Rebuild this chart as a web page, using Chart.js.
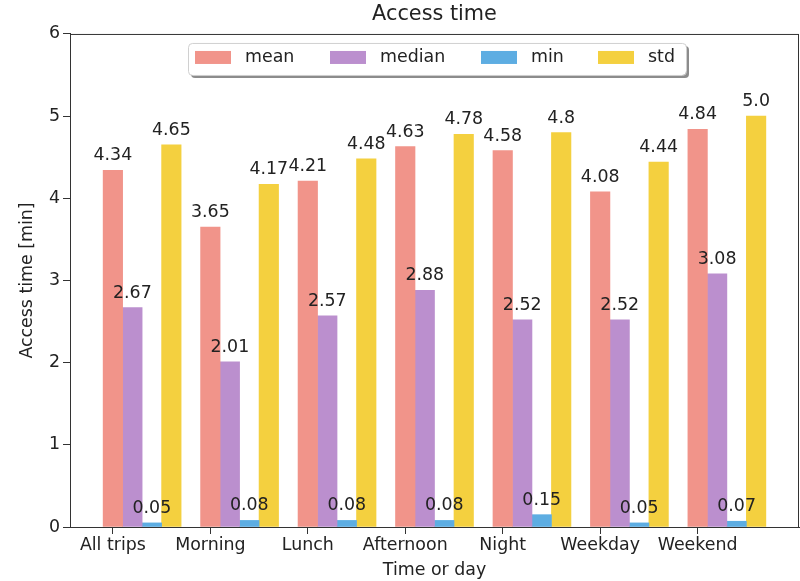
<!DOCTYPE html>
<html>
<head>
<meta charset="utf-8">
<script src="https://cdn.jsdelivr.net/npm/chart.js@4/dist/chart.umd.min.js"></script>
<style>
  html, body { margin: 0; padding: 0; background: #fff; }
  #wrap { width: 800px; height: 581px; }
</style>
</head>
<body>
<div id="wrap"><canvas id="c" width="800" height="581"></canvas></div>
<script>
'use strict';
// Temps d'accès par période : moyenne, médiane, min, écart-type (minutes).
const CATS = ['All trips', 'Morning', 'Lunch', 'Afternoon', 'Night', 'Weekday', 'Weekend'];
const MEAN = [4.34, 3.65, 4.21, 4.63, 4.58, 4.08, 4.84];
const MEDIAN = [2.67, 2.01, 2.57, 2.88, 2.52, 2.52, 3.08];
const MIN = [0.05, 0.08, 0.08, 0.08, 0.15, 0.05, 0.07];
const STD = [4.65, 4.17, 4.48, 4.78, 4.8, 4.44, 5.0];
const Y_TICKS = [0, 1, 2, 3, 4, 5, 6];

const FONT = 'DejaVu Sans';
const FS = 17.4;
const INK = '#222';
const AXIS = '#333';
const W = 0.2; // largeur d'une barre en unités de l'axe x

const SERIES = [
  { label: 'mean', values: MEAN, color: '#F1948A' },
  { label: 'median', values: MEDIAN, color: '#BB8FCE' },
  { label: 'min', values: MIN, color: '#5DADE2' },
  { label: 'std', values: STD, color: '#F4D03F' },
];

// Barres décalées de 0.2 par série, la première centrée sur la graduation.
const datasets = SERIES.map((s, k) => ({
  label: s.label,
  data: s.values.map((v, i) => ({ x: i + k * W, y: v })),
  backgroundColor: s.color,
  borderWidth: 0,
  grouped: false,
  barPercentage: 1,
  categoryPercentage: 1,
}));

const fmtVal = v => Number.isInteger(v) ? v.toFixed(1) : String(v);

// Valeurs au-dessus des barres
const valueLabels = {
  id: 'valueLabels',
  afterDatasetsDraw(chart) {
    const ctx = chart.ctx;
    ctx.save();
    ctx.font = `${FS}px "${FONT}"`;
    ctx.fillStyle = INK;
    ctx.textAlign = 'center';
    ctx.textBaseline = 'alphabetic';
    chart.data.datasets.forEach((ds, k) => {
      chart.getDatasetMeta(k).data.forEach((bar, i) => {
        ctx.fillText(fmtVal(ds.data[i].y), bar.x, bar.y - 10);
      });
    });
    ctx.restore();
  },
};

// Cadre complet + légende encadrée avec ombre (style matplotlib)
const frame = {
  id: 'frame',
  afterDraw(chart) {
    const { ctx, chartArea: a } = chart;
    ctx.save();
    ctx.strokeStyle = AXIS;
    ctx.lineWidth = 1;
    ctx.strokeRect(a.left + 0.5, a.top + 0.5, a.right - a.left - 1, a.bottom - a.top);

    const bw = 498, bh = 32;
    const bx = Math.round((a.left + a.right) / 2 - bw / 2) + 2, by = a.top + 9;
    const r = 4;
    const rr = (x, y) => { ctx.beginPath(); ctx.roundRect(x, y, bw, bh, r); };
    ctx.fillStyle = 'rgba(0,0,0,0.45)';
    rr(bx + 3, by + 3); ctx.fill();
    ctx.fillStyle = '#fff';
    rr(bx, by); ctx.fill();
    ctx.strokeStyle = '#d0d0d0';
    rr(bx + 0.5, by + 0.5); ctx.stroke();

    const cols = [7, 142, 293, 410];
    ctx.font = `${FS}px "${FONT}"`;
    ctx.textBaseline = 'middle';
    ctx.textAlign = 'left';
    chart.data.datasets.forEach((ds, k) => {
      const x = bx + cols[k];
      ctx.fillStyle = ds.backgroundColor;
      ctx.fillRect(x, by + 8, 36, 13);
      ctx.fillStyle = INK;
      ctx.fillText(ds.label, x + 50, by + 15);
    });
    ctx.restore();
  },
};

new Chart(document.getElementById('c'), {
  type: 'bar',
  data: { datasets },
  options: {
    responsive: false,
    animation: false,
    layout: { padding: { right: 1, left: 0, top: 0, bottom: 0 } },
    plugins: {
      legend: { display: false },
      tooltip: { enabled: false },
      title: {
        display: true, text: 'Access time', fullSize: false, color: INK,
        font: { family: FONT, size: 20.8, weight: 'normal' },
        padding: { top: 2, bottom: 7 },
      },
    },
    scales: {
      x: {
        type: 'linear', min: -0.44, max: 7.04, offset: false,
        afterBuildTicks: s => { s.ticks = CATS.map((_, i) => ({ value: i })); },
        afterFit: s => { s.height = 54; },
        ticks: { callback: v => CATS[v], autoSkip: false, maxRotation: 0, padding: 1, color: INK, font: { family: FONT, size: FS } },
        grid: { drawOnChartArea: false, offset: false, tickLength: 7, color: AXIS },
        border: { color: AXIS },
        title: { display: true, text: 'Time or day', color: INK, font: { family: FONT, size: FS }, padding: { top: 0, bottom: 0 } },
      },
      y: {
        min: 0, max: 6,
        afterBuildTicks: s => { s.ticks = Y_TICKS.map(v => ({ value: v })); },
        afterFit: s => { s.width = 70; },
        ticks: { padding: 3, color: INK, font: { family: FONT, size: FS } },
        grid: { drawOnChartArea: false, tickLength: 7, color: AXIS },
        border: { color: AXIS },
        title: { display: true, text: 'Access time [min]', color: INK, font: { family: FONT, size: FS }, padding: { top: 17, bottom: 0 } },
      },
    },
  },
  plugins: [valueLabels, frame],
});
</script>
</body>
</html>
